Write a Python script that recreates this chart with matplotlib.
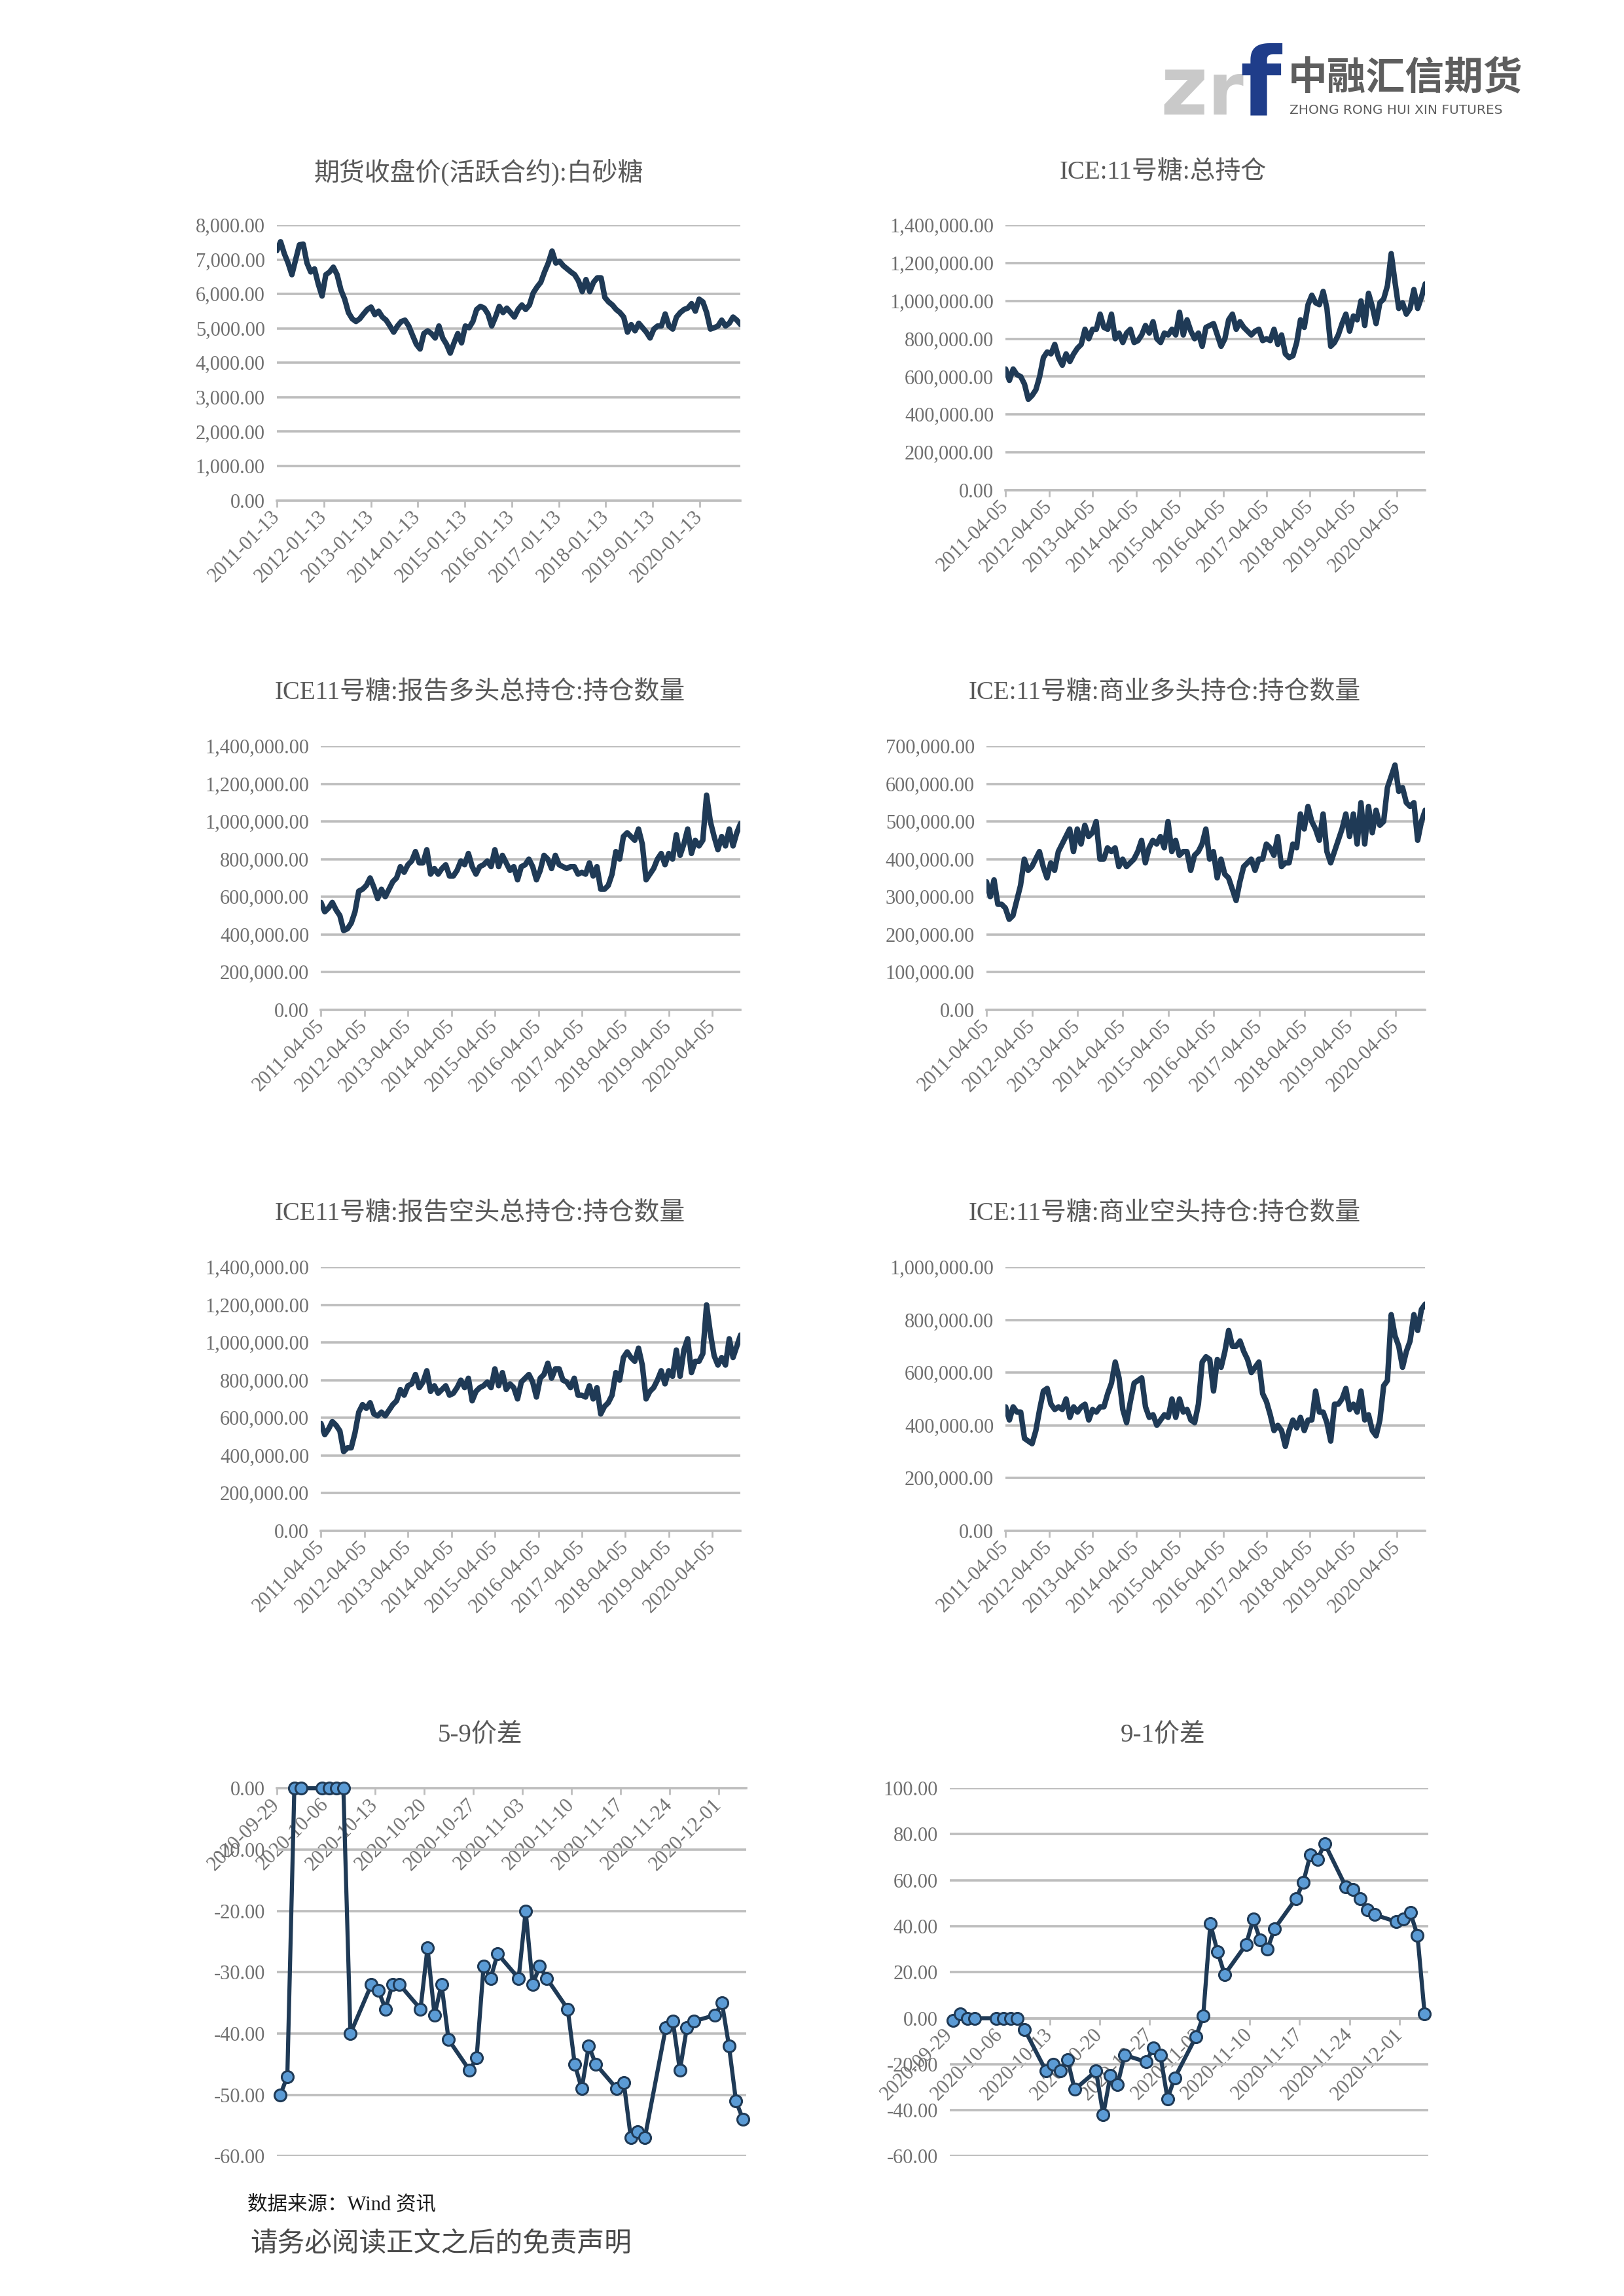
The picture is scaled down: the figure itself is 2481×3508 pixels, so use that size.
import matplotlib
matplotlib.use('Agg')
import matplotlib.pyplot as plt
from matplotlib.ticker import FuncFormatter
import numpy as np
import pandas as pd

plt.rcParams['font.family'] = ['Liberation Serif', 'Noto Sans CJK SC', 'DejaVu Sans']

# 郑商所白砂糖活跃合约收盘价 (元/吨), 2011-01-13 起等距取样
sugar_close = [
    7260, 7520, 7170, 6900, 6560, 7000, 7430, 7450, 6900, 6640,
    6730, 6290, 5940, 6560, 6640, 6780, 6560, 6120, 5850, 5460,
    5280, 5200, 5280, 5420, 5550, 5620, 5400, 5500, 5330, 5240,
    5070, 4890, 5070, 5200, 5240, 5070, 4800, 4540, 4400, 4850,
    4930, 4850, 4720, 5070, 4720, 4540, 4280, 4580, 4850, 4580,
    5070, 5020, 5200, 5550, 5640, 5590, 5420, 5070, 5330, 5640,
    5460, 5590, 5460, 5330, 5550, 5680, 5550, 5680, 6030, 6200,
    6340, 6640, 6900, 7250, 6900, 6950, 6820, 6730, 6640, 6560,
    6380, 6070, 6420, 6070, 6340, 6470, 6470, 5900, 5770, 5680,
    5550, 5460, 5330, 4890, 5110, 4930, 5150, 5020, 4890, 4720,
    4980, 5070, 5070, 5420, 5070, 4980, 5330, 5460, 5550, 5590,
    5720, 5500, 5850, 5770, 5460, 4980, 5020, 5070, 5240, 5070,
    5150, 5330, 5240, 5110,
]

# ICE 11号糖持仓 (千手), 2011-04-05 起等距取样
ice_total_oi = [
    640, 580, 640, 610, 600, 560, 480, 500, 530, 600,
    700, 730, 720, 770, 700, 660, 720, 680, 720, 750,
    770, 850, 800, 850, 850, 930, 860, 850, 930, 800,
    830, 780, 830, 850, 780, 790, 820, 870, 830, 890,
    800, 780, 830, 820, 850, 820, 940, 820, 900, 840,
    800, 830, 760, 860, 870, 880, 820, 760, 800, 900,
    930, 850, 890, 860, 840, 820, 840, 850, 790, 800,
    790, 850, 770, 820, 720, 700, 710, 780, 900, 860,
    980, 1030, 990, 980, 1050, 960, 760, 780, 820, 880,
    930, 840, 920, 900, 1000, 870, 1040, 970, 880, 990,
    1010, 1080, 1250, 1100, 960, 990, 930, 960, 1060, 960,
    1020, 1090,
]

ice_long_total = [
    570, 520, 540, 570, 530, 500, 420, 430, 460, 520,
    630, 640, 660, 700, 650, 590, 640, 600, 640, 680,
    700, 760, 730, 770, 790, 840, 780, 780, 850, 720,
    750, 720, 750, 770, 710, 710, 740, 790, 770, 830,
    760, 720, 760, 770, 790, 760, 850, 760, 820, 780,
    740, 760, 690, 760, 770, 800, 760, 690, 740, 820,
    800, 750, 820, 770, 760, 750, 760, 760, 720, 730,
    720, 780, 710, 760, 640, 640, 660, 720, 840, 800,
    920, 940, 920, 900, 960, 880, 690, 720, 750, 800,
    830, 770, 830, 800, 930, 820, 880, 960, 830, 900,
    870, 900, 1140, 1000, 920, 850, 920, 870, 960, 870,
    940, 990,
]

ice_comm_long = [
    340, 300, 345, 280, 280, 270, 240, 250, 290, 330,
    400, 370, 380, 400, 420, 380, 350, 390, 370, 420,
    440, 460, 480, 420, 480, 440, 490, 460, 470, 500,
    400, 400, 430, 420, 430, 380, 400, 380, 390, 400,
    420, 450, 390, 430, 450, 440, 460, 430, 500, 420,
    450, 410, 420, 420, 370, 410, 420, 440, 480, 400,
    420, 350, 400, 360, 350, 320, 290, 340, 380, 390,
    400, 370, 400, 400, 440, 430, 410, 460, 380, 390,
    390, 440, 430, 520, 480, 540, 500, 480, 450, 520,
    420, 390, 420, 450, 480, 520, 460, 520, 440, 550,
    440, 540, 470, 530, 490, 500, 590, 620, 650, 580,
    590, 550, 540, 550, 450, 500, 530,
]

ice_short_total = [
    570, 510, 540, 580, 560, 530, 420, 440, 440, 520,
    630, 670, 650, 680, 620, 610, 630, 610, 640, 670,
    690, 750, 720, 770, 780, 830, 760, 790, 850, 740,
    770, 730, 750, 770, 720, 730, 760, 800, 760, 810,
    690, 740, 760, 770, 790, 760, 860, 770, 840, 750,
    780, 760, 700, 790, 810, 830, 790, 710, 810, 830,
    890, 810, 860, 860, 800, 790, 760, 810, 720, 720,
    710, 770, 700, 760, 620, 660, 680, 720, 840, 800,
    920, 950, 920, 900, 970, 880, 700, 740, 760, 800,
    850, 780, 850, 820, 960, 820, 960, 1020, 840, 900,
    900, 940, 1200, 1050, 930, 880, 920, 880, 1020, 920,
    980, 1040,
]

ice_comm_short = [
    470, 420, 470, 450, 450, 350, 340, 330, 380, 460,
    530, 540, 480, 460, 470, 460, 500, 430, 470, 450,
    470, 480, 420, 460, 450, 470, 470, 520, 560, 640,
    580, 460, 410, 490, 560, 570, 580, 470, 430, 440,
    400, 420, 440, 430, 500, 430, 500, 450, 460, 420,
    410, 480, 640, 660, 650, 530, 650, 620, 680, 760,
    700, 700, 720, 680, 650, 600, 620, 640, 520, 490,
    440, 380, 400, 380, 320, 380, 420, 390, 430, 380,
    420, 420, 530, 450, 450, 410, 340, 480, 480, 500,
    540, 460, 480, 450, 530, 420, 440, 380, 360, 420,
    550, 570, 820, 740, 700, 620, 680, 720, 820, 760,
    840, 860,
]

# 价差, 2020-09-29 至 2020-12-04 每个工作日
spread_5_9 = [
    -50, -47, 0, 0, 0, 0, 0, 0, -40, -32,
    -33, -36, -32, -32, -36, -26, -37, -32, -41, -46,
    -44, -29, -31, -27, -31, -20, -32, -29, -31, -36,
    -45, -49, -42, -45, -49, -48, -57, -56, -57, -39,
    -38, -46, -39, -38, -37, -35, -42, -51, -54,
]
spread_9_1 = [
    -1, 2, 0, 0, 0, 0, 0, 0, -5, -23,
    -20, -23, -18, -31, -23, -42, -25, -29, -16, -19,
    -13, -16, -35, -26, -8, 1, 41, 29, 19, 32,
    43, 34, 30, 39, 52, 59, 71, 69, 76, 57,
    56, 52, 47, 45, 42, 43, 46, 36, 2,
]

sr_ticks = ['2011-01-13', '2012-01-13', '2013-01-13', '2014-01-13', '2015-01-13',
            '2016-01-13', '2017-01-13', '2018-01-13', '2019-01-13', '2020-01-13']
ice_ticks = ['2011-04-05', '2012-04-05', '2013-04-05', '2014-04-05', '2015-04-05',
             '2016-04-05', '2017-04-05', '2018-04-05', '2019-04-05', '2020-04-05']
spread_ticks = ['2020-09-29', '2020-10-06', '2020-10-13', '2020-10-20', '2020-10-27',
                '2020-11-03', '2020-11-10', '2020-11-17', '2020-11-24', '2020-12-01']

W, H = 1103, 1560  # page grid the positions below were measured on

LINE = '#1f3a56'
MARK = '#5b9bd5'
GRID = '#bdbdbd'
TICK = '#707070'
TITLE = '#595959'

fig = plt.figure(figsize=(24.81, 35.08), dpi=100)


def box(left, right, top, bottom):
    return [left / W, 1 - bottom / H, (right - left) / W, (bottom - top) / H]


def style_axes(ax):
    ax.yaxis.set_major_formatter(FuncFormatter(lambda v, p: f'{v:,.2f}'))
    ax.grid(axis='y', color=GRID, lw=2.6)
    ax.set_axisbelow(True)
    for side in ['top', 'right', 'left']:
        ax.spines[side].set_visible(False)
    ax.spines['bottom'].set_color(GRID)
    ax.spines['bottom'].set_linewidth(2.6)
    ax.tick_params(axis='y', length=0, pad=13, labelsize=22, labelcolor=TICK)
    ax.tick_params(axis='x', length=7, width=2, color=GRID, direction='out',
                   pad=8, labelsize=22, labelcolor=TICK)


def long_chart(rect, title, tx, ty, values, start, end, ticks, ymax, ystep, scale=1):
    ax = fig.add_axes(rect)
    dates = pd.date_range(start, end, periods=len(values))
    ax.plot(dates, np.array(values) * scale, color=LINE, lw=6,
            solid_joinstyle='round', solid_capstyle='round')
    ax.set_xlim(pd.Timestamp(start), pd.Timestamp(end))
    ax.set_ylim(0, ymax)
    ax.set_yticks(np.arange(0, ymax + 1, ystep))
    style_axes(ax)
    ax.set_xticks(pd.to_datetime(ticks))
    ax.set_xticklabels(ticks, rotation=45, ha='right', va='center', rotation_mode='anchor')
    fig.text(tx / W, 1 - ty / H, title, ha='center', va='center', fontsize=28, color=TITLE)
    return ax


def spread_chart(rect, title, tx, ty, values, ymin, ymax, ystep):
    ax = fig.add_axes(rect)
    days = pd.bdate_range('2020-09-29', '2020-12-04') + pd.Timedelta(hours=12)
    ax.plot(days, values, '-o', color=LINE, lw=4.5, ms=13, mfc=MARK, mec=LINE, mew=2.2,
            clip_on=False, zorder=3)
    ax.set_xlim(pd.Timestamp('2020-09-29'), pd.Timestamp('2020-12-05'))
    ax.set_ylim(ymin, ymax)
    ax.set_yticks(np.arange(ymin, ymax + 1, ystep))
    style_axes(ax)
    ax.spines['bottom'].set_position(('data', 0))
    ax.set_xticks(pd.to_datetime(spread_ticks))
    ax.set_xticklabels(spread_ticks, rotation=45, ha='right', va='center', rotation_mode='anchor')
    fig.text(tx / W, 1 - ty / H, title, ha='center', va='center', fontsize=28, color=TITLE)
    return ax


long_chart(box(188, 503, 153, 340), '期货收盘价(活跃合约):白砂糖', 325, 117,
           sugar_close, '2011-01-13', '2020-11-27', sr_ticks, 8000, 1000)
long_chart(box(683, 968, 153, 333), 'ICE:11号糖:总持仓', 790, 117,
           ice_total_oi, '2011-04-05', '2020-11-28', ice_ticks, 1400000, 200000, 1000)
long_chart(box(218, 503, 507, 686), 'ICE11号糖:报告多头总持仓:持仓数量', 326, 471,
           ice_long_total, '2011-04-05', '2020-11-28', ice_ticks, 1400000, 200000, 1000)
long_chart(box(670, 968, 507, 686), 'ICE:11号糖:商业多头持仓:持仓数量', 791, 471,
           ice_comm_long, '2011-04-05', '2020-11-28', ice_ticks, 700000, 100000, 1000)
long_chart(box(218, 503, 861, 1040), 'ICE11号糖:报告空头总持仓:持仓数量', 326, 825,
           ice_short_total, '2011-04-05', '2020-11-28', ice_ticks, 1400000, 200000, 1000)
long_chart(box(683, 968, 861, 1040), 'ICE:11号糖:商业空头持仓:持仓数量', 791, 825,
           ice_comm_short, '2011-04-05', '2020-11-28', ice_ticks, 1000000, 200000, 1000)

spread_chart(box(188, 507, 1215, 1465), '5-9价差', 326, 1179, spread_5_9, -60, 0, 10)
spread_chart(box(645, 970, 1215, 1465), '9-1价差', 790, 1179, spread_9_1, -60, 100, 20)

# logo
fig.text(788 / W, 1 - 78 / H, 'z', fontsize=90, fontweight='bold', color='#c9c9c9',
         family='DejaVu Sans', va='baseline')
fig.text(820 / W, 1 - 78 / H, 'r', fontsize=80, fontweight='bold', color='#c9c9c9',
         family='DejaVu Sans', va='baseline')
fig.text(842 / W, 1 - 78 / H, 'f', fontsize=104, fontweight='bold', color='#1f3d8a',
         family='DejaVu Sans', va='baseline')
fig.text(875 / W, 1 - 53 / H, '中融汇信期货', fontsize=43, fontweight='bold', color='#5e5e5e',
         family='Noto Sans CJK SC', va='center')
fig.text(876 / W, 1 - 75 / H, 'ZHONG RONG HUI XIN FUTURES', fontsize=14.5, color='#5e5e5e',
         family='DejaVu Sans', va='center')

# footer
fig.text(168 / W, 1 - 1498 / H, '数据来源：Wind 资讯', fontsize=22, color='#1a1a1a', va='center')
fig.text(170 / W, 1 - 1525 / H, '请务必阅读正文之后的免责声明', fontsize=30, color='#4a4a4a',
         va='center', family=['Noto Sans CJK SC'], fontweight='light')

fig.savefig('out.png', dpi=100, facecolor='white')
